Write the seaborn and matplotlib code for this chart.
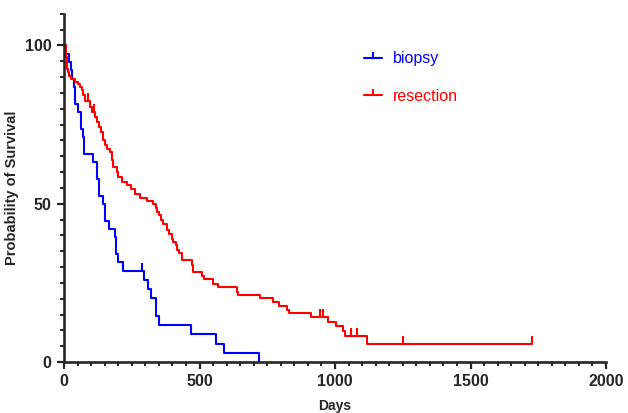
import matplotlib
matplotlib.use("Agg")
import matplotlib.pyplot as plt
from matplotlib.lines import Line2D
from matplotlib.ticker import MultipleLocator
import pandas as pd
import seaborn as sns

# Kaplan-Meier steps (days, % surviving)
biopsy_days = [0, 4, 20, 25, 31, 37, 39, 53, 62, 69, 74, 105, 121, 130, 143, 151,
               167, 188, 192, 198, 216, 296, 309, 321, 338, 351, 467, 561, 592, 720]
biopsy_surv = [100, 97.4, 94.7, 92.1, 89.5, 86.8, 81.6, 78.9, 73.7, 71.1, 65.8, 63.2,
               57.9, 52.6, 50.0, 44.7, 42.1, 39.5, 34.2, 31.6, 28.9, 26.0, 23.1, 20.2,
               14.4, 11.6, 8.7, 5.8, 2.9, 0]
biopsy_cens_days = [289]
biopsy_cens_surv = [28.9]

resection_days = [0, 7, 10, 12, 16, 20, 25, 41, 53, 59, 65, 71, 77, 96, 102, 114, 123,
                  130, 135, 143, 151, 158, 170, 176, 182, 194, 200, 213, 231, 246, 262,
                  280, 305, 330, 338, 344, 352, 357, 364, 379, 389, 397, 403, 412, 418,
                  426, 434, 471, 477, 508, 517, 551, 569, 637, 643, 723, 770, 795, 822,
                  831, 910, 975, 1004, 1031, 1037, 1117, 1727]
resection_surv = [100, 96.3, 94.2, 92.6, 91.6, 90.5, 89.5, 88.4, 87.9, 86.8, 85.8, 84.2,
                  82.6, 80.5, 79.0, 77.4, 75.8, 74.2, 72.6, 70.0, 68.5, 67.4, 66.3, 63.7,
                  61.6, 60.0, 58.5, 56.9, 55.8, 54.7, 53.2, 51.9, 50.9, 49.8, 48.5, 47.4,
                  46.4, 44.8, 43.7, 41.6, 40.3, 39.0, 37.9, 36.9, 35.3, 34.3, 32.2, 30.6,
                  28.5, 27.1, 26.1, 24.8, 23.6, 22.2, 21.1, 20.1, 19.0, 17.7, 16.4, 15.4,
                  14.3, 12.7, 11.4, 9.9, 8.3, 5.7, 5.7]
resection_cens_days = [90, 112, 945, 957, 1058, 1080, 1252, 1727]
resection_cens_surv = [82.6, 79.0, 14.3, 14.3, 8.3, 8.3, 5.7, 5.7]

groups = ["biopsy", "resection"]
colors = {"biopsy": "#0000FF", "resection": "#FF0000"}

df = pd.concat([
    pd.DataFrame({"Days": biopsy_days, "Survival": biopsy_surv, "Group": "biopsy"}),
    pd.DataFrame({"Days": resection_days, "Survival": resection_surv, "Group": "resection"}),
])
cens = {
    "biopsy": (biopsy_cens_days, biopsy_cens_surv),
    "resection": (resection_cens_days, resection_cens_surv),
}

sns.set_style("ticks")
plt.rcParams["font.family"] = ["Liberation Sans", "DejaVu Sans"]

fig = plt.figure(figsize=(6.28, 4.13), dpi=100)
ax = fig.add_axes([0.102, 0.1235, 0.863, 0.843])

# censor tick: vertical stroke rising from the curve
tick_marker = [(0, 0), (0, 1)]

for g in groups:
    sub = df[df["Group"] == g]
    sns.lineplot(data=sub, x="Days", y="Survival", color=colors[g], estimator=None,
                 sort=False, drawstyle="steps-post", linewidth=1.5, ax=ax, legend=False)
    cx, cy = cens[g]
    ax.plot(cx, cy, linestyle="none", marker=tick_marker, markersize=11,
            markeredgewidth=1.5, color=colors[g])

ax.set_xlim(0, 2000)
ax.set_ylim(0, 110)
ax.xaxis.set_major_locator(MultipleLocator(500))
ax.xaxis.set_minor_locator(MultipleLocator(50))
ax.yaxis.set_major_locator(MultipleLocator(50))
ax.yaxis.set_minor_locator(MultipleLocator(5))
ax.tick_params(which="major", length=5, width=1.6, labelsize=11.5, pad=4)
ax.tick_params(which="minor", length=3, width=1.4)
for lab in ax.get_xticklabels() + ax.get_yticklabels():
    lab.set_fontweight("bold")

for side in ["left", "bottom"]:
    ax.spines[side].set_linewidth(1.9)
sns.despine(ax=ax)

ax.set_xlabel("Days", fontsize=10, fontweight="bold", labelpad=7)
ax.set_ylabel("Probability of Survival", fontsize=10.5, fontweight="bold", labelpad=4)

handles = [Line2D([0], [0], color=colors[g], linewidth=1.5, marker=tick_marker,
                  markersize=8, markeredgewidth=1.5) for g in groups]
leg = ax.legend(handles, groups, loc="upper left", bbox_to_anchor=(0.526, 0.934),
                frameon=False, fontsize=11.5, handlelength=1.15, handletextpad=0.7,
                labelspacing=1.4)
for txt, g in zip(leg.get_texts(), groups):
    txt.set_color(colors[g])

fig.savefig("out.png", dpi=100)
